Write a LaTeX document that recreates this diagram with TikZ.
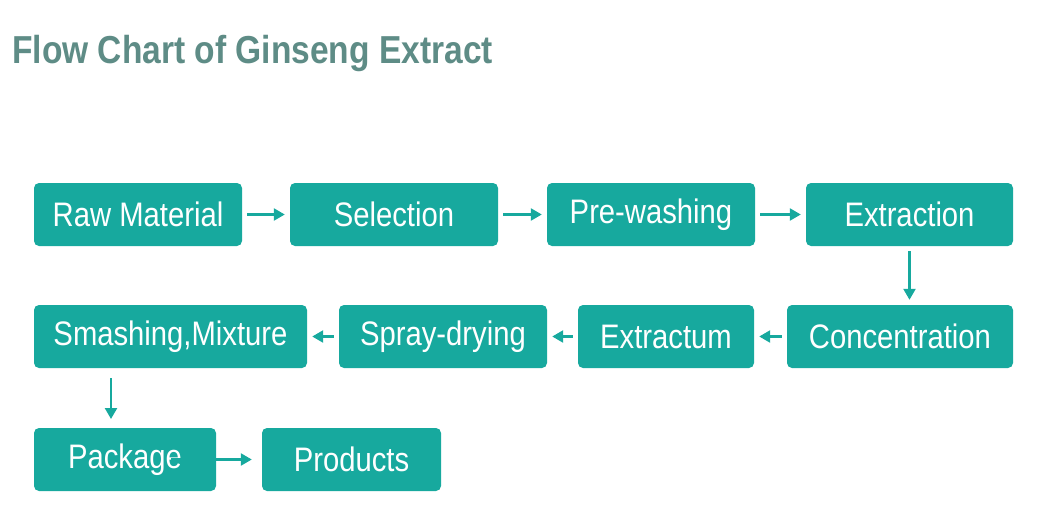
\documentclass[tikz,border=0pt]{standalone}
\usepackage{fontspec}
\setmainfont{Liberation Sans}
\newfontfamily\narrowf[FakeStretch=0.86]{Liberation Sans}
\usetikzlibrary{arrows.meta}
\definecolor{teal1}{HTML}{17A99E}
\definecolor{titlec}{HTML}{5E8C86}
\tikzset{
  box/.style={fill=teal1, rounded corners=5pt, text=white, font=\narrowf\fontsize{34}{38}\selectfont, inner sep=0pt},
  arr/.style={draw=teal1, line width=2.4pt, -{Triangle[length=11pt,width=12pt]}}
}
\begin{document}
\begin{tikzpicture}[x=1pt,y=-1pt]
\useasboundingbox (0,0) rectangle (1060,530);
\node[anchor=base west, inner sep=0pt, text=titlec, font=\bfseries\narrowf\fontsize{39}{44}\selectfont] (title) at (12,63) {Flow Chart of Ginseng Extract};
\newcommand\mybox[6]{\path[box] (#2,#3) rectangle (#4,#5); \node[box,fill=none] (#1) at ({(#2+#4)/2},{(#3+#5)/2}) [minimum width={#4-#2}, minimum height={#5-#3}] {#6};}
\mybox{a}{34}{183}{242}{246}{Raw Material}
\mybox{b}{290}{183}{498}{246}{Selection}
\mybox{c}{547}{183}{755}{246}{Pre-washing}
\mybox{d}{806}{183}{1013}{246}{Extraction}
\mybox{e}{787}{305}{1013}{368}{Concentration}
\mybox{f}{578}{305}{754}{368}{Extractum}
\mybox{g}{339}{305}{547}{368}{Spray-drying}
\mybox{h}{34}{305}{307}{368}{Smashing,Mixture}
\mybox{i}{34}{428}{216}{491}{Package}
\mybox{j}{262}{428}{441}{491}{Products}
\draw[arr] ([xshift=5pt]a.east) -- ([xshift=-5pt]b.west);
\draw[arr] ([xshift=5pt]b.east) -- ([xshift=-5pt]c.west);
\draw[arr] ([xshift=5pt]c.east) -- ([xshift=-5pt]d.west);
\draw[arr] ([yshift=-5pt]d.south) -- ([yshift=5pt]d.south |- e.north);
\draw[arr] ([xshift=-5pt]e.west) -- ([xshift=5pt]f.east);
\draw[arr] ([xshift=-5pt]f.west) -- ([xshift=5pt]g.east);
\draw[arr] ([xshift=-5pt]g.west) -- ([xshift=5pt]h.east);
\coordinate (ht) at (111,378);
\coordinate (hb) at (111,419);
\draw[arr] (ht) -- (hb);
\draw[arr] ([xshift=-11pt]j.west -| i.east) ++(-34pt,0) -- ([xshift=-10pt]j.west);
\end{tikzpicture}
\end{document}
